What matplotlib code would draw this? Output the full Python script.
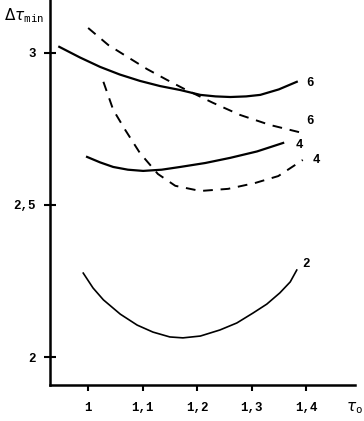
# Зависимость минимального интервала от tau_0

import matplotlib.pyplot as plt

# Кривая 2 (сплошная)
x2 = [0.991, 1.009, 1.028, 1.059, 1.090, 1.119, 1.150, 1.174, 1.206, 1.242,
      1.273, 1.303, 1.328, 1.352, 1.371, 1.383]
y2 = [2.276, 2.227, 2.188, 2.141, 2.105, 2.082, 2.066, 2.063, 2.069, 2.089,
      2.112, 2.145, 2.174, 2.211, 2.247, 2.286]

# Кривая 4 (сплошная)
x4 = [0.998, 1.022, 1.046, 1.073, 1.101, 1.135, 1.169, 1.215, 1.261, 1.310, 1.358]
y4 = [2.658, 2.640, 2.625, 2.616, 2.612, 2.616, 2.625, 2.638, 2.655, 2.676, 2.704]

# Кривая 4 (штриховая)
x4d = [1.028, 1.046, 1.068, 1.095, 1.128, 1.160, 1.206, 1.257, 1.306, 1.349, 1.394]
y4d = [2.905, 2.813, 2.747, 2.671, 2.602, 2.563, 2.546, 2.553, 2.572, 2.595, 2.648]

# Кривая 6 (сплошная)
x6 = [0.947, 0.985, 1.022, 1.058, 1.095, 1.132, 1.169, 1.206, 1.234, 1.261,
      1.290, 1.316, 1.350, 1.383]
y6 = [3.020, 2.985, 2.954, 2.929, 2.908, 2.891, 2.878, 2.862, 2.857, 2.855,
      2.857, 2.862, 2.880, 2.905]

# Кривая 6 (штриховая)
x6d = [1.000, 1.037, 1.072, 1.108, 1.145, 1.176, 1.229, 1.279, 1.334, 1.393]
y6d = [3.082, 3.026, 2.987, 2.947, 2.911, 2.882, 2.836, 2.796, 2.763, 2.737]

xticks = [1.0, 1.1, 1.2, 1.3, 1.4]
xlabels = ["1", "1,1", "1,2", "1,3", "1,4"]
yticks = [2.0, 2.5, 3.0]
ylabels = ["2", "2,5", "3"]

# Подписи кривых
curve_labels = ["6", "6", "4", "4", "2"]
label_x = [1.400, 1.400, 1.380, 1.413, 1.393]
label_y = [2.901, 2.776, 2.697, 2.648, 2.306]

font = {"family": "Liberation Mono", "weight": "bold", "size": 9}

fig = plt.figure(figsize=(3.64, 4.21), dpi=100)
ax = fig.add_axes([0.1374, 0.0855, 0.838, 0.9145])

dash = (0, (5, 4))
ax.plot(x2, y2, color="black", lw=1.2)
ax.plot(x4, y4, color="black", lw=1.6)
ax.plot(x4d, y4d, color="black", lw=1.4, linestyle=dash)
ax.plot(x6, y6, color="black", lw=1.6)
ax.plot(x6d, y6d, color="black", lw=1.4, linestyle=dash)

for t, lx, ly in zip(curve_labels, label_x, label_y):
    ax.text(lx, ly, t, ha="left", va="center", fontdict=font)

ax.set_xlim(0.930, 1.49)
ax.set_ylim(1.908, 3.174)

ax.spines["top"].set_visible(False)
ax.spines["right"].set_visible(False)
ax.spines["left"].set_linewidth(1.8)
ax.spines["bottom"].set_linewidth(1.8)

ax.set_xticks(xticks)
ax.set_xticklabels(xlabels, fontdict=font)
ax.set_yticks(yticks)
ax.set_yticklabels(ylabels, fontdict=font)
ax.tick_params(axis="x", direction="out", length=4, width=1.5, pad=8)
ax.tick_params(axis="y", direction="inout", length=8, width=1.5, pad=6)

# Подписи осей
fig.text(0.010, 0.962, r"$\Delta\tau_{\mathtt{min}}$", fontsize=11, ha="left", va="center")
fig.text(0.950, 0.030, r"$\tau_{\mathtt{o}}$", fontsize=11, ha="left", va="center")

fig.savefig("out.png", dpi=100)
